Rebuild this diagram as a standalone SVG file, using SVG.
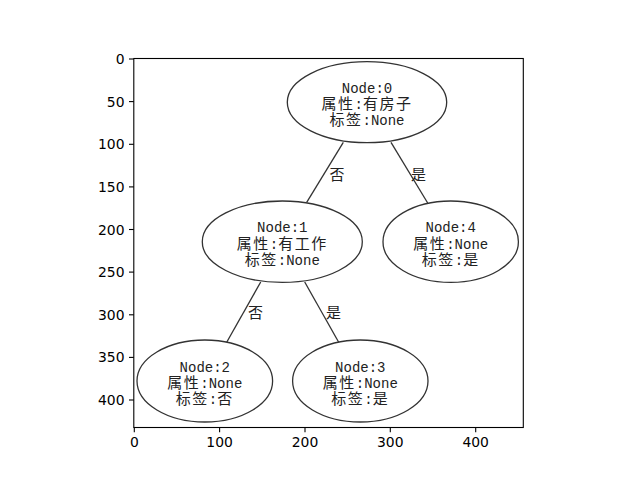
<svg xmlns="http://www.w3.org/2000/svg" width="640" height="480" viewBox="0 0 640 480">
<style>
.bg{fill:#ffffff}
.frame{fill:none;stroke:#000;stroke-width:1.1}
.tick{stroke:#000;stroke-width:1.1}
.tl{font-family:"DejaVu Sans",sans-serif;font-size:13.9px;fill:#000}
.ty{text-anchor:end}
.tx{text-anchor:middle}
.node ellipse{fill:#fff;stroke:#333;stroke-width:1.3}
.t{font-family:"Liberation Mono","Noto Sans CJK SC",monospace;font-size:14px;fill:#222;text-anchor:middle}
.c{font-family:"Noto Sans CJK SC",sans-serif;font-size:15px;letter-spacing:1.5px}
.edge{stroke:#333;stroke-width:1.3;fill:none}
.el{font-family:"Noto Sans CJK SC",sans-serif;font-size:15px;fill:#222;text-anchor:middle}
</style>
<rect class="bg" x="0" y="0" width="640" height="480"/>

<g id="connectors">
  <line class="edge" x1="343.3" y1="142.3" x2="306.7" y2="202.3"/>
  <line class="edge" x1="391" y1="142.3" x2="427.7" y2="203"/>
  <line class="edge" x1="260.7" y1="282" x2="226.7" y2="342.3"/>
  <line class="edge" x1="304.7" y1="282" x2="338.7" y2="342.3"/>
  <text class="el" x="337" y="179.5">否</text>
  <text class="el" x="418.5" y="179.5">是</text>
  <text class="el" x="255.5" y="318">否</text>
  <text class="el" x="333.5" y="318">是</text>
</g>

<g id="node0" class="node">
  <ellipse cx="367" cy="102.2" rx="79.7" ry="40.5"/>
  <text class="t"><tspan x="367" y="92.7">Node:0</tspan><tspan x="367" y="109.2"><tspan class="c">属性</tspan>:<tspan class="c">有房子</tspan></tspan><tspan x="367" y="125.2"><tspan class="c">标签</tspan>:None</tspan></text>
</g>
<g id="node1" class="node">
  <ellipse cx="282.3" cy="241.7" rx="80" ry="40.7"/>
  <text class="t"><tspan x="282.3" y="232.3">Node:1</tspan><tspan x="282.3" y="248.7"><tspan class="c">属性</tspan>:<tspan class="c">有工作</tspan></tspan><tspan x="282.3" y="264.7"><tspan class="c">标签</tspan>:None</tspan></text>
</g>
<g id="node4" class="node">
  <ellipse cx="450.7" cy="241.7" rx="67.7" ry="40.7"/>
  <text class="t"><tspan x="450.7" y="232.3">Node:4</tspan><tspan x="450.7" y="248.7"><tspan class="c">属性</tspan>:None</tspan><tspan x="450.7" y="264.7"><tspan class="c">标签</tspan>:<tspan class="c">是</tspan></tspan></text>
</g>
<g id="node2" class="node">
  <ellipse cx="204.8" cy="381" rx="67.8" ry="41"/>
  <text class="t"><tspan x="204.8" y="371.5">Node:2</tspan><tspan x="204.8" y="388"><tspan class="c">属性</tspan>:None</tspan><tspan x="204.8" y="404"><tspan class="c">标签</tspan>:<tspan class="c">否</tspan></tspan></text>
</g>
<g id="node3" class="node">
  <ellipse cx="360.3" cy="381" rx="67.7" ry="41"/>
  <text class="t"><tspan x="360.3" y="371.5">Node:3</tspan><tspan x="360.3" y="388"><tspan class="c">属性</tspan>:None</tspan><tspan x="360.3" y="404"><tspan class="c">标签</tspan>:<tspan class="c">是</tspan></tspan></text>
</g>

<g id="axes">
  <rect class="frame" x="133.8" y="58.5" width="389.5" height="369"/>
  <g id="yticks">
    <line class="tick" x1="129" y1="59" x2="133.8" y2="59"/>
    <line class="tick" x1="129" y1="101.6" x2="133.8" y2="101.6"/>
    <line class="tick" x1="129" y1="144.3" x2="133.8" y2="144.3"/>
    <line class="tick" x1="129" y1="186.9" x2="133.8" y2="186.9"/>
    <line class="tick" x1="129" y1="229.5" x2="133.8" y2="229.5"/>
    <line class="tick" x1="129" y1="272.1" x2="133.8" y2="272.1"/>
    <line class="tick" x1="129" y1="314.8" x2="133.8" y2="314.8"/>
    <line class="tick" x1="129" y1="357.4" x2="133.8" y2="357.4"/>
    <line class="tick" x1="129" y1="400" x2="133.8" y2="400"/>
    <text class="tl ty" x="124.5" y="64">0</text>
    <text class="tl ty" x="124.5" y="106.6">50</text>
    <text class="tl ty" x="124.5" y="149.3">100</text>
    <text class="tl ty" x="124.5" y="191.9">150</text>
    <text class="tl ty" x="124.5" y="234.5">200</text>
    <text class="tl ty" x="124.5" y="277.1">250</text>
    <text class="tl ty" x="124.5" y="319.8">300</text>
    <text class="tl ty" x="124.5" y="362.4">350</text>
    <text class="tl ty" x="124.5" y="405">400</text>
  </g>
  <g id="xticks">
    <line class="tick" x1="134.3" y1="427.5" x2="134.3" y2="432.3"/>
    <line class="tick" x1="219.6" y1="427.5" x2="219.6" y2="432.3"/>
    <line class="tick" x1="305" y1="427.5" x2="305" y2="432.3"/>
    <line class="tick" x1="390.3" y1="427.5" x2="390.3" y2="432.3"/>
    <line class="tick" x1="475.7" y1="427.5" x2="475.7" y2="432.3"/>
    <text class="tl tx" x="134.3" y="447">0</text>
    <text class="tl tx" x="219.6" y="447">100</text>
    <text class="tl tx" x="305" y="447">200</text>
    <text class="tl tx" x="390.3" y="447">300</text>
    <text class="tl tx" x="475.7" y="447">400</text>
  </g>
</g>
</svg>
